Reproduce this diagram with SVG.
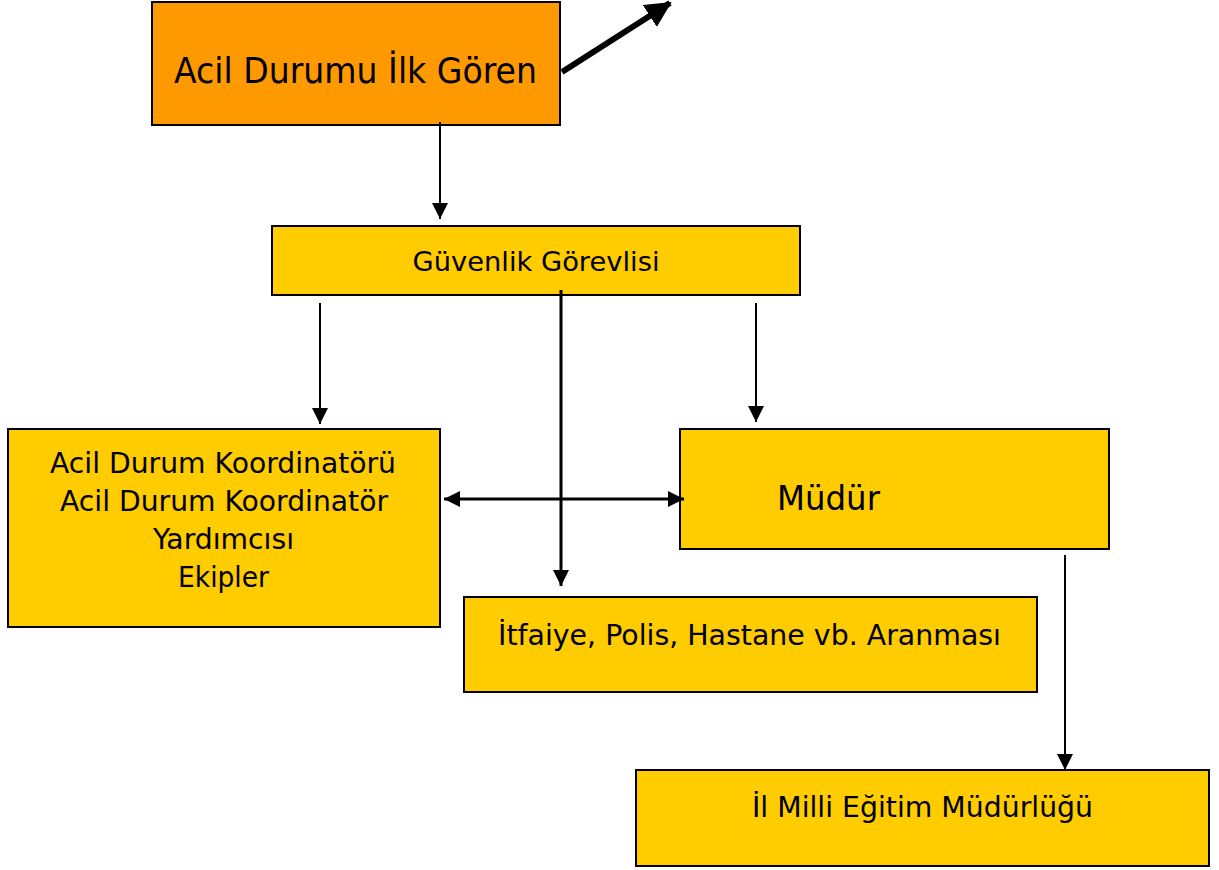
<svg xmlns="http://www.w3.org/2000/svg" width="1219" height="870" viewBox="0 0 1219 870">
<style>
.box{stroke:#000;stroke-width:2}
.o{fill:#FF9900}
.y{fill:#FFCC00}
text{font-family:"DejaVu Sans","Liberation Sans",sans-serif;fill:#000;text-anchor:middle}
.ln{stroke:#000;fill:none}
</style>
<defs>
<marker id="ah" markerUnits="userSpaceOnUse" markerWidth="18" markerHeight="18" refX="16" refY="8" orient="auto">
<path d="M0,0 L16,8 L0,16 Z" fill="#000"/>
</marker>
<marker id="ahs" markerUnits="userSpaceOnUse" markerWidth="18" markerHeight="18" refX="16" refY="8" orient="auto-start-reverse">
<path d="M0,0 L16,8 L0,16 Z" fill="#000"/>
</marker>
<marker id="ahb" markerUnits="userSpaceOnUse" markerWidth="30" markerHeight="30" refX="24" refY="13" orient="auto">
<path d="M0,0 L26,13 L0,26 Z" fill="#000"/>
</marker>
</defs>
<g id="n1"><rect class="box o" x="152" y="2" width="408" height="123"/><text x="355.5" y="83" font-size="35" textLength="363" lengthAdjust="spacingAndGlyphs">Acil Durumu İlk Gören</text></g>
<g id="n2"><rect class="box y" x="272" y="226" width="528" height="69"/><text x="536" y="271" font-size="27" textLength="247" lengthAdjust="spacingAndGlyphs">Güvenlik Görevlisi</text></g>
<g id="n3"><rect class="box y" x="8" y="429" width="432" height="198"/>
<text x="223" y="473" font-size="28" textLength="346" lengthAdjust="spacingAndGlyphs">Acil Durum Koordinatörü</text>
<text x="224" y="511" font-size="28" textLength="328" lengthAdjust="spacingAndGlyphs">Acil Durum Koordinatör</text>
<text x="223.5" y="549" font-size="28" textLength="141" lengthAdjust="spacingAndGlyphs">Yardımcısı</text>
<text x="223.5" y="587" font-size="28" textLength="91" lengthAdjust="spacingAndGlyphs">Ekipler</text></g>
<g id="n4"><rect class="box y" x="680" y="429" width="429" height="120"/><text x="828.5" y="510" font-size="33" textLength="103" lengthAdjust="spacingAndGlyphs">Müdür</text></g>
<g id="n5"><rect class="box y" x="464" y="597" width="573" height="95"/><text x="749.5" y="645" font-size="28" textLength="503" lengthAdjust="spacingAndGlyphs">İtfaiye, Polis, Hastane vb. Aranması</text></g>
<g id="n6"><rect class="box y" x="636" y="770" width="573" height="96"/><text x="922.5" y="817" font-size="28" textLength="341" lengthAdjust="spacingAndGlyphs">İl Milli Eğitim Müdürlüğü</text></g>
<g id="connectors">
<line class="ln" x1="562" y1="72" x2="670" y2="3" stroke-width="6" marker-end="url(#ahb)"/>
<line class="ln" x1="440" y1="122" x2="440" y2="219" stroke-width="2" marker-end="url(#ah)"/>
<line class="ln" x1="320" y1="303" x2="320" y2="424" stroke-width="2" marker-end="url(#ah)"/>
<line class="ln" x1="756" y1="303" x2="756" y2="422" stroke-width="2" marker-end="url(#ah)"/>
<line class="ln" x1="561" y1="290" x2="561" y2="586" stroke-width="3" marker-end="url(#ah)"/>
<line class="ln" x1="444" y1="499" x2="684" y2="499" stroke-width="3" marker-start="url(#ahs)" marker-end="url(#ahs)"/>
<line class="ln" x1="1065" y1="555" x2="1065" y2="770" stroke-width="2" marker-end="url(#ah)"/>
</g>
</svg>
